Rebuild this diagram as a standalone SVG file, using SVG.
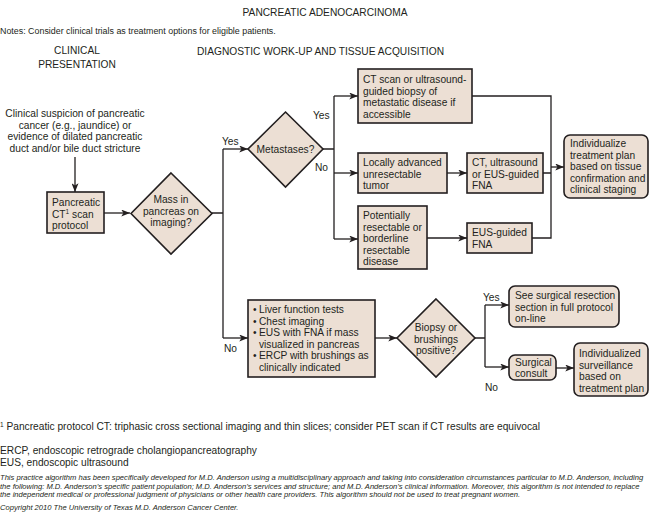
<svg xmlns="http://www.w3.org/2000/svg" width="650" height="512" viewBox="0 0 650 512">
<style>
text{font-family:"Liberation Sans",Arial,Helvetica,sans-serif;fill:#231f20}
.t{font-size:10.2px}
.c{text-anchor:middle}
.box{fill:#ecdfd4;stroke:#231f20;stroke-width:1.6}
.ln{fill:none;stroke:#231f20;stroke-width:1.3}
.lbl{font-size:10.2px}
.disc{font-size:7.6px;font-style:italic}
</style>
<defs>
<marker id="ah" viewBox="0 0 10 8" refX="10" refY="4" markerWidth="9" markerHeight="7" markerUnits="userSpaceOnUse" orient="auto">
<path d="M0,0 L10,4 L0,8 L2.5,4 z" fill="#231f20"/>
</marker>
</defs>
<rect width="650" height="512" fill="#ffffff"/>

<text x="325" y="16" class="c" style="font-size:10.2px">PANCREATIC ADENOCARCINOMA</text>
<text x="0" y="34" style="font-size:8.9px">Notes: Consider clinical trials as treatment options for eligible patients.</text>
<text class="t c" x="77" y="54"><tspan x="77">CLINICAL</tspan><tspan x="77" dy="13.5">PRESENTATION</tspan></text>
<text class="t" x="197" y="55">DIAGNOSTIC WORK-UP AND TISSUE ACQUISITION</text>

<g id="connectors">
<path class="ln" d="M75,157 V192" marker-end="url(#ah)"/>
<path class="ln" d="M104,213 H130" marker-end="url(#ah)"/>
<path class="ln" d="M212,213 H223 M223,149 V338"/>
<path class="ln" d="M223,149 H248" marker-end="url(#ah)"/>
<path class="ln" d="M223,338 H248" marker-end="url(#ah)"/>
<path class="ln" d="M323,149 H334 M334,96 V239"/>
<path class="ln" d="M334,96 H358" marker-end="url(#ah)"/>
<path class="ln" d="M334,173 H358" marker-end="url(#ah)"/>
<path class="ln" d="M334,239 H358" marker-end="url(#ah)"/>
<path class="ln" d="M447,173 H467" marker-end="url(#ah)"/>
<path class="ln" d="M427,238 H467" marker-end="url(#ah)"/>
<path class="ln" d="M472,96 H551 V238 H532 M543,173 H551"/>
<path class="ln" d="M551,167 H564" marker-end="url(#ah)"/>
<path class="ln" d="M375,338 H397" marker-end="url(#ah)"/>
<path class="ln" d="M475,338 H485 M485,305 V367"/>
<path class="ln" d="M485,305 H509" marker-end="url(#ah)"/>
<path class="ln" d="M485,367 H509" marker-end="url(#ah)"/>
<path class="ln" d="M556,368 H574" marker-end="url(#ah)"/>
<text class="lbl" x="222" y="145">Yes</text>
<text class="lbl" x="224" y="352">No</text>
<text class="lbl" x="313" y="119">Yes</text>
<text class="lbl" x="315" y="171">No</text>
<text class="lbl" x="483" y="301">Yes</text>
<text class="lbl" x="485" y="391">No</text>
</g>

<g id="suspicion">
<text class="t c"><tspan x="75" y="117">Clinical suspicion of pancreatic</tspan><tspan x="75" y="128.6">cancer (e.g., jaundice) or</tspan><tspan x="75" y="140.2">evidence of dilated pancreatic</tspan><tspan x="75" y="151.8">duct and/or bile duct stricture</tspan></text>
</g>

<g id="ctscan">
<rect class="box" x="47" y="192" width="57" height="41"/>
<text class="t"><tspan x="52" y="206">Pancreatic</tspan><tspan x="52" y="217.6">CT<tspan style="font-size:6.5px" dy="-3.5">1</tspan><tspan dy="3.5"> scan</tspan></tspan><tspan x="52" y="229.2">protocol</tspan></text>
</g>

<g id="mass">
<polygon class="box" points="171,173 212,213.5 171,254 131,213.5"/>
<text class="t c"><tspan x="171" y="203">Mass in</tspan><tspan x="171" y="214.6">pancreas on</tspan><tspan x="171" y="226.2">imaging?</tspan></text>
</g>

<g id="metastases">
<polygon class="box" points="285.5,112 323,149 285.5,187 248,149"/>
<text class="t c" x="285.5" y="153">Metastases?</text>
</g>

<g id="biopsy-meta">
<rect class="box" x="358" y="69" width="114" height="54"/>
<text class="t"><tspan x="363" y="83">CT scan or ultrasound-</tspan><tspan x="363" y="94.6">guided biopsy of</tspan><tspan x="363" y="106.2">metastatic disease if</tspan><tspan x="363" y="117.8">accessible</tspan></text>
</g>

<g id="locally">
<rect class="box" x="358" y="153" width="89" height="40"/>
<text class="t"><tspan x="363" y="166">Locally advanced</tspan><tspan x="363" y="177.6">unresectable</tspan><tspan x="363" y="189.2">tumor</tspan></text>
</g>

<g id="potentially">
<rect class="box" x="358" y="206" width="69" height="63"/>
<text class="t"><tspan x="363" y="219">Potentially</tspan><tspan x="363" y="230.6">resectable or</tspan><tspan x="363" y="242.2">borderline</tspan><tspan x="363" y="253.8">resectable</tspan><tspan x="363" y="265.4">disease</tspan></text>
</g>

<g id="ct-fna">
<rect class="box" x="467" y="153" width="76" height="40"/>
<text class="t"><tspan x="472" y="166">CT, ultrasound</tspan><tspan x="472" y="177.6">or EUS-guided</tspan><tspan x="472" y="189.2">FNA</tspan></text>
</g>

<g id="eus-fna">
<rect class="box" x="467" y="223" width="65" height="30"/>
<text class="t"><tspan x="472" y="236">EUS-guided</tspan><tspan x="472" y="247.6">FNA</tspan></text>
</g>

<g id="individualize">
<rect class="box" x="564" y="135" width="84" height="63" rx="6"/>
<text class="t"><tspan x="570" y="147">Individualize</tspan><tspan x="570" y="158.6">treatment plan</tspan><tspan x="570" y="170.2">based on tissue</tspan><tspan x="570" y="181.8">confirmation and</tspan><tspan x="570" y="193.4">clinical staging</tspan></text>
</g>

<g id="workup">
<rect class="box" x="248" y="300" width="127" height="77"/>
<text class="t"><tspan x="253" y="313">•</tspan><tspan x="259" y="313">Liver function tests</tspan><tspan x="253" y="324.6">•</tspan><tspan x="259" y="324.6">Chest imaging</tspan><tspan x="253" y="336.2">•</tspan><tspan x="259" y="336.2">EUS with FNA if mass</tspan><tspan x="259" y="347.8">visualized in pancreas</tspan><tspan x="253" y="359.4">•</tspan><tspan x="259" y="359.4">ERCP with brushings as</tspan><tspan x="259" y="371">clinically indicated</tspan></text>
</g>

<g id="biopsy">
<polygon class="box" points="436,299 475,338 436,377 397,338"/>
<text class="t c"><tspan x="436" y="331">Biopsy or</tspan><tspan x="436" y="342.6">brushings</tspan><tspan x="436" y="354.2">positive?</tspan></text>
</g>

<g id="surgical-resection">
<rect class="box" x="509" y="286" width="110" height="41" rx="6"/>
<text class="t"><tspan x="515" y="299">See surgical resection</tspan><tspan x="515" y="310.6">section in full protocol</tspan><tspan x="515" y="322.2">on-line</tspan></text>
</g>

<g id="surgical-consult">
<rect class="box" x="509" y="355" width="47" height="25" rx="6"/>
<text class="t"><tspan x="515" y="365.5">Surgical</tspan><tspan x="515" y="377">consult</tspan></text>
</g>

<g id="surveillance">
<rect class="box" x="574" y="343" width="74" height="53" rx="6"/>
<text class="t"><tspan x="579" y="357">Individualized</tspan><tspan x="579" y="368.6">surveillance</tspan><tspan x="579" y="380.2">based on</tspan><tspan x="579" y="391.8">treatment plan</tspan></text>
</g>

<text x="0" y="430" style="font-size:10.2px"><tspan style="font-size:6.5px" dy="-3.5">1</tspan><tspan dy="3.5"> Pancreatic protocol CT: triphasic cross sectional imaging and thin slices; consider PET scan if CT results are equivocal</tspan></text>
<text x="0" y="454" style="font-size:10.2px">ERCP, endoscopic retrograde cholangiopancreatography</text>
<text x="0" y="466" style="font-size:10.2px">EUS, endoscopic ultrasound</text>
<text class="disc" x="0" y="480">This practice algorithm has been specifically developed for M.D. Anderson using a multidisciplinary approach and taking into consideration circumstances particular to M.D. Anderson, including</text>
<text class="disc" x="0" y="488.5">the following: M.D. Anderson’s specific patient population; M.D. Anderson’s services and structure; and M.D. Anderson’s clinical information. Moreover, this algorithm is not intended to replace</text>
<text class="disc" x="0" y="497">the independent medical or professional judgment of physicians or other health care providers. This algorithm should not be used to treat pregnant women.</text>
<text class="disc" x="0" y="510">Copyright 2010 The University of Texas M.D. Anderson Cancer Center.</text>
</svg>
